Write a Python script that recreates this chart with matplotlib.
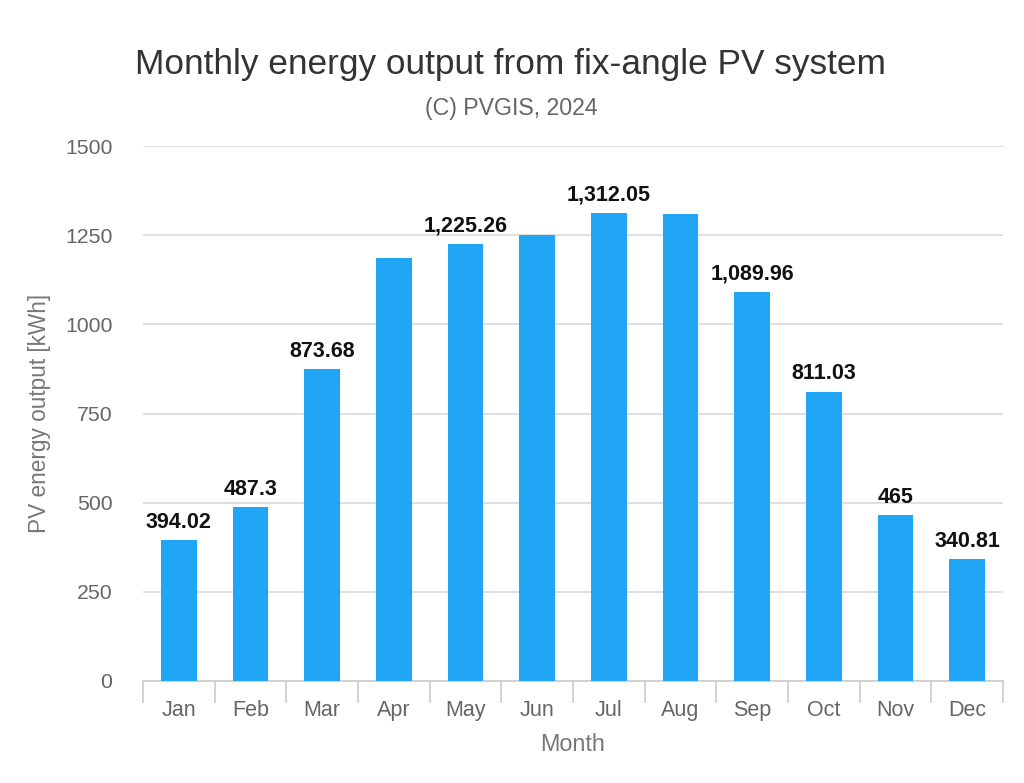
import matplotlib
matplotlib.use("Agg")
import matplotlib.pyplot as plt
import numpy as np

months = ["Jan", "Feb", "Mar", "Apr", "May", "Jun", "Jul", "Aug", "Sep", "Oct", "Nov", "Dec"]
output_kwh = [394.02, 487.3, 873.68, 1185.5, 1225.26, 1251.7, 1312.05, 1310.4, 1089.96, 811.03, 465, 340.81]
shown_labels = ["394.02", "487.3", "873.68", "", "1,225.26", "", "1,312.05", "", "1,089.96", "811.03", "465", "340.81"]
yticks = [0, 250, 500, 750, 1000, 1250, 1500]

plt.rcParams['font.family'] = ['Liberation Sans', 'DejaVu Sans']

fig = plt.figure(figsize=(10.24, 7.83), dpi=100)
ax = fig.add_axes([0.1396, 0.1303, 0.8399, 0.6832])

x = np.arange(len(months))
bars = ax.bar(x, output_kwh, width=0.5, color="#21A6F6", zorder=3)

for b, lab in zip(bars, shown_labels):
    if lab:
        ax.text(b.get_x() + b.get_width() / 2, b.get_height() + 21, lab,
                ha="center", va="bottom", fontsize=15.5, fontweight="bold", color="#111111", zorder=4)

ax.set_xlim(-0.5, len(months) - 0.5)
ax.set_ylim(0, 1500)
ax.set_yticks(yticks)
ax.set_yticklabels([str(t) for t in yticks])
ax.yaxis.grid(True, color="#d9d9d9", linewidth=1.2, zorder=0)
ax.set_axisbelow(True)

for s in ["top", "right", "left"]:
    ax.spines[s].set_visible(False)
ax.spines["bottom"].set_color("#cccccc")
ax.spines["bottom"].set_linewidth(1.2)

ax.set_xticks(x)
ax.set_xticklabels(months)
ax.set_xticks(np.arange(-0.5, len(months), 1), minor=True)
ax.tick_params(axis="x", which="major", length=0, pad=14, labelsize=15.5, labelcolor="#666666")
ax.tick_params(axis="x", which="minor", length=16, width=1.2, color="#cccccc")
ax.tick_params(axis="y", length=0, pad=22, labelsize=15.3, labelcolor="#666666")

ax.set_xlabel("Month", fontsize=16.8, color="#777777", labelpad=8.5)
ax.set_ylabel("PV energy output [kWh]", fontsize=16.3, color="#777777", labelpad=10)

fig.text(0.499, 0.917, "Monthly energy output from fix-angle PV system", ha="center", va="center",
         fontsize=25.4, color="#333333")
fig.text(0.499, 0.862, "(C) PVGIS, 2024", ha="center", va="center", fontsize=16.7, color="#666666")

fig.savefig("out.png", dpi=100)
